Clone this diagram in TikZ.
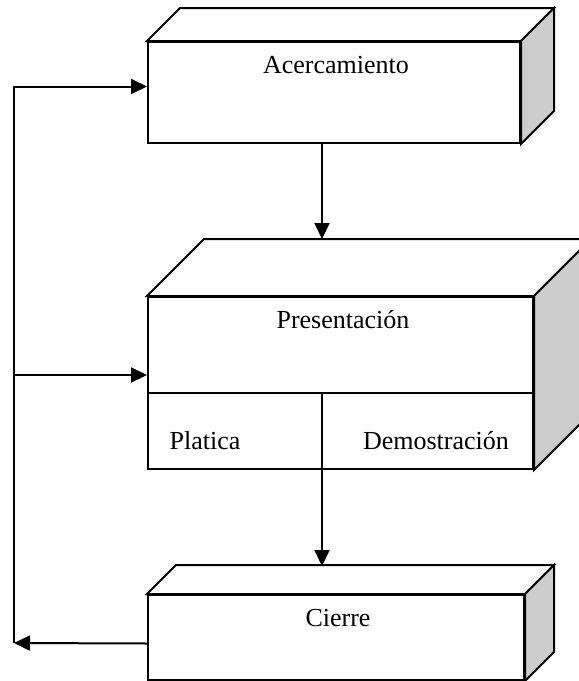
\documentclass[tikz,border=0pt]{standalone}
\usepackage{fontspec}
\setmainfont{Liberation Serif}
\usetikzlibrary{arrows.meta}

\tikzset{
	box/.style={shape=rectangle,draw=black,fill=white,inner sep=0pt},
	face/.style={draw=black,fill=white},
	side/.style={draw=black,fill=black!20},
	txt/.style={inner sep=0pt,font=\fontsize{13}{15}\selectfont},
	arr/.style={-{Triangle[length=8pt,width=7.5pt]}}
}

\begin{document}
\begin{tikzpicture}[x=0.5pt,y=-0.5pt,line width=1pt,line join=miter]
	\useasboundingbox (0,0) rectangle (579,681);
	\clip (0,0) rectangle (579,681);

	\node[box,minimum width=186pt,minimum height=50.5pt] (acer)   at (334,92.5)  {};
	\node[box,minimum width=192.5pt,minimum height=86pt] (pres)   at (340.5,383) {};
	\node[box,minimum width=188pt,minimum height=42.5pt] (cierre) at (336,637.5) {};

	% caras de los bloques
	\draw[face] (acer.north west) -- ++(33,-33) -- ([shift={(33,-33)}]acer.north east) -- (acer.north east) -- cycle;
	\draw[side] (acer.north east) -- ++(33,-33) -- ([shift={(33,-33)}]acer.south east) -- (acer.south east) -- cycle;
	\draw[face] (pres.north west) -- ++(57,-57) -- ([shift={(57,-57)}]pres.north east) -- (pres.north east) -- cycle;
	\draw[side] (pres.north east) -- ++(57,-57) -- ([shift={(57,-57)}]pres.south east) -- (pres.south east) -- cycle;
	\draw[face] (cierre.north west) -- ++(29,-29) -- ([shift={(29,-29)}]cierre.north east) -- (cierre.north east) -- cycle;
	\draw[side] (cierre.north east) -- ++(29,-29) -- ([shift={(29,-29)}]cierre.south east) -- (cierre.south east) -- cycle;

	\coordinate (div) at (322,393);
	\draw (pres.west |- div) -- (pres.east |- div);
	\draw (div) -- (pres.south -| div);

	\node[txt] (acerT)  at (336,65)  {Acercamiento};
	\node[txt] (presT)  at (343,320) {Presentación};
	\node[txt] (platT)  at (205,441) {Platica};
	\node[txt] (demoT)  at (436,441) {Demostración};
	\node[txt] (cierT)  at (338,618) {Cierre};

	\coordinate (m1) at (322,239);
	\coordinate (m2) at (322,566);
	\coordinate (back) at (14,643);
	\coordinate (branch) at (14,375);

	\draw[arr] (acer.south -| m1) -- (m1);
	\draw[arr] (pres.south -| m2) -- (m2);
	\draw[arr] ([yshift=-3pt]cierre.west) -- (back);
	\draw[arr] (back) |- ([yshift=3pt]acer.west);
	\draw[arr] (branch) -- ([yshift=4pt]pres.west);

\end{tikzpicture}
\end{document}
